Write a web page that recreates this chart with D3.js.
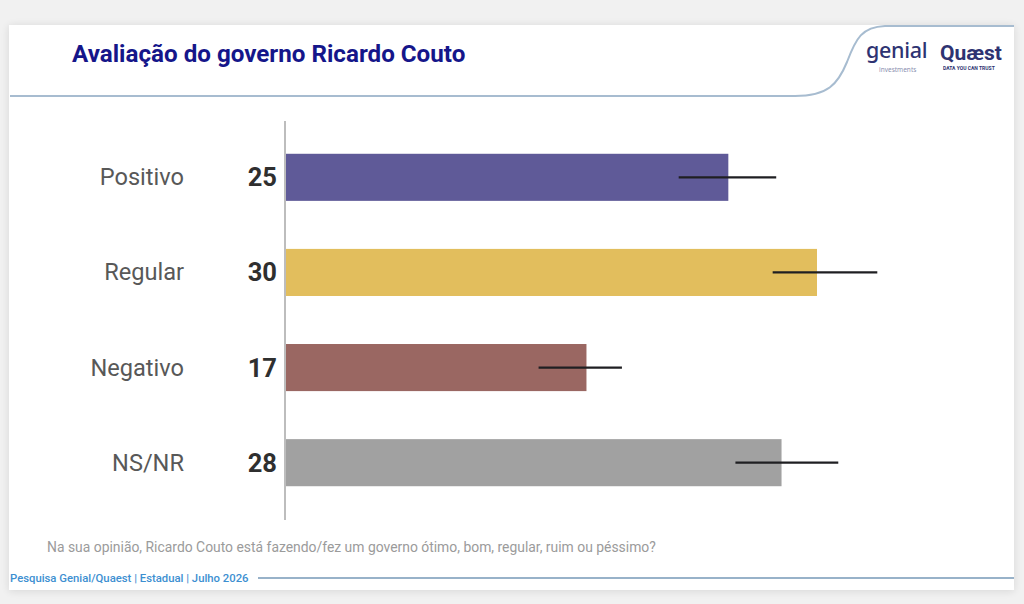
<!DOCTYPE html>
<html><head><meta charset="utf-8">
<script src="https://cdn.jsdelivr.net/npm/d3@7"></script>
<style>
html,body{margin:0;padding:0;background:#f1f1f1;}
svg{display:block;}
</style></head>
<body>
<svg id="c" width="1024" height="604"></svg>
<script>
const categories = ["Positivo", "Regular", "Negativo", "NS/NR"];
const values = [25, 30, 17, 28];
const errLow = [22.2, 27.5, 14.3, 25.4];
const errHigh = [27.7, 33.4, 19.0, 31.2];
const colors = ["#5f5a98", "#e2be5d", "#9a6762", "#a1a1a1"];
const title = "Avaliação do governo Ricardo Couto";
const question = "Na sua opinião, Ricardo Couto está fazendo/fez um governo ótimo, bom, regular, ruim ou péssimo?";
const footer = "Pesquisa Genial/Quaest | Estadual | Julho 2026";

const svg = d3.select("#c");
const defs = svg.append("defs");
const f = defs.append("filter").attr("id","sh").attr("x","-5%").attr("y","-5%").attr("width","110%").attr("height","110%");
f.append("feGaussianBlur").attr("in","SourceAlpha").attr("stdDeviation",4);
f.append("feOffset").attr("dx",0).attr("dy",1).attr("result","b");
f.append("feComponentTransfer").append("feFuncA").attr("type","linear").attr("slope",0.12);
const m = f.append("feMerge"); m.append("feMergeNode"); m.append("feMergeNode").attr("in","SourceGraphic");

svg.append("rect").attr("width",1024).attr("height",604).attr("fill","#f1f1f1");
svg.append("rect").attr("x",9).attr("y",25).attr("width",1005).attr("height",565).attr("fill","#fff").attr("filter","url(#sh)");

// header line with curve
svg.append("path")
  .attr("d","M 10 96 L 795 96 C 828 96, 838 84, 847 62 C 856 38, 862 27, 885 26 L 1014 26")
  .attr("fill","none").attr("stroke","#a7bcd0").attr("stroke-width",2);

svg.append("text").attr("x",72).attr("y",62).text(title)
  .attr("font-family","Roboto, 'Noto Sans', sans-serif").attr("font-weight",700)
  .attr("font-size",24.2).attr("fill","#15168a");

// logos
svg.append("text").attr("x",866).attr("y",58).text("genial")
  .attr("font-family","'Noto Sans', sans-serif").attr("font-weight",500).attr("font-size",21.5).attr("fill","#2e3372").attr("letter-spacing",-0.3);
svg.append("text").attr("x",879).attr("y",72).text("investments")
  .attr("font-family","'Noto Sans', sans-serif").attr("font-size",6.5).attr("fill","#8a8fb0");
svg.append("text").attr("x",940).attr("y",60).text("Quæst")
  .attr("font-family","Roboto, sans-serif").attr("font-weight",700).attr("font-size",21).attr("fill","#2e3372");
svg.append("text").attr("x",943).attr("y",70).text("DATA YOU CAN TRUST")
  .attr("font-family","Roboto, sans-serif").attr("font-weight",700).attr("font-size",5).attr("fill","#2e3372");

const x = d3.scaleLinear().domain([0, 30]).range([285, 817]);
const y = d3.scaleBand().domain(categories).range([130, 510]).paddingInner(0.505).paddingOuter(0.25);

const g = svg.append("g");
g.selectAll("rect.bar").data(categories).join("rect").attr("class","bar")
  .attr("x", x(0)).attr("y", d => y(d))
  .attr("width", (d,i) => x(values[i]) - x(0)).attr("height", y.bandwidth())
  .attr("fill", (d,i) => colors[i]);

// axis line
svg.append("line").attr("x1",285).attr("x2",285).attr("y1",121).attr("y2",520)
  .attr("stroke","#bdbdbd").attr("stroke-width",2);

// error bars
g.selectAll("line.err").data(categories).join("line").attr("class","err")
  .attr("x1",(d,i)=>x(errLow[i])).attr("x2",(d,i)=>x(errHigh[i]))
  .attr("y1",d=>y(d)+y.bandwidth()/2).attr("y2",d=>y(d)+y.bandwidth()/2)
  .attr("stroke","#1f1f22").attr("stroke-width",2.3);

// labels
g.selectAll("text.cat").data(categories).join("text").attr("class","cat")
  .attr("x",184).attr("y",d=>y(d)+y.bandwidth()/2+8).attr("text-anchor","end")
  .attr("font-family","Roboto, sans-serif").attr("font-size",23.6).attr("fill","#585858")
  .text(d=>d);
g.selectAll("text.val").data(categories).join("text").attr("class","val")
  .attr("x",277).attr("y",d=>y(d)+y.bandwidth()/2+9).attr("text-anchor","end")
  .attr("font-family","Roboto, sans-serif").attr("font-weight",700).attr("font-size",25.5).attr("fill","#2f2f2f")
  .text((d,i)=>values[i]);

svg.append("text").attr("x",47).attr("y",552).text(question)
  .attr("font-family","Roboto, sans-serif").attr("font-size",13.9).attr("fill","#9b9b9b");

svg.append("text").attr("x",10).attr("y",582).text(footer)
  .attr("font-family","Roboto, sans-serif").attr("font-weight",500).attr("font-size",11.3).attr("fill","#3d8fd1");
svg.append("line").attr("x1",258).attr("x2",1014).attr("y1",578).attr("y2",578)
  .attr("stroke","#98b2c9").attr("stroke-width",2);
</script>
</body></html>
